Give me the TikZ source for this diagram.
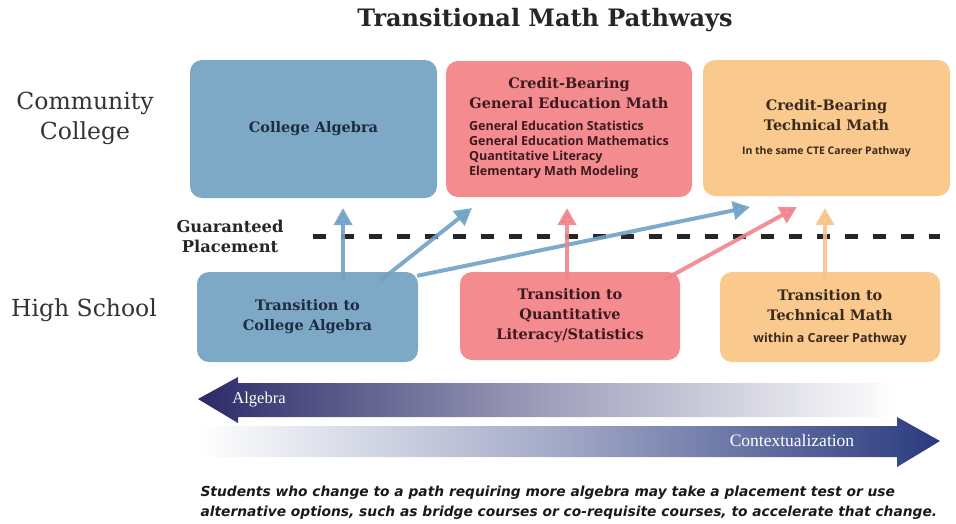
\documentclass[tikz,border=0pt]{standalone}
\usepackage{fontspec}
\usetikzlibrary{arrows.meta}
\newfontfamily\slab{DejaVu Serif}
\newfontfamily\gsans{Open Sans}
\newfontfamily\csans{DejaVu Sans}
\newfontfamily\lserif{Liberation Serif}
\newcommand{\boxhead}{\slab\bfseries\fontsize{14.5}{20}\selectfont}
\newcommand{\boxlist}{\gsans\bfseries\fontsize{12.5}{15}\selectfont}
\definecolor{cablue}{HTML}{7DA8C6}
\definecolor{capink}{HTML}{F38B8F}
\definecolor{caorange}{HTML}{F9C98D}
\definecolor{arblue}{HTML}{6FA2C6}
\definecolor{arpink}{HTML}{F0858C}
\definecolor{arorange}{HTML}{F7C386}
\definecolor{txblue}{HTML}{1E2B40}
\definecolor{txpink}{HTML}{3D1A1E}
\definecolor{txorange}{HTML}{3A2A1E}
\definecolor{navyalg}{HTML}{2B2A68}
\definecolor{navyctx}{HTML}{2A3A7E}
\begin{document}
\begin{tikzpicture}
	[x=1pt,y=-1pt,
	box/.style={rounded corners=12pt,inner sep=0pt,align=center,font=\boxhead},
	side/.style={font=\slab\fontsize{23.5}{30}\selectfont,text=black!80,align=center},
	route/.style={line width=4pt,opacity=0.9,-{Triangle[width=18pt,length=17pt]}}]
    \useasboundingbox (0,0) rectangle (956,523);
    \node[font=\slab\bfseries\fontsize{24}{28}\selectfont,text=black!85] at (545,20) (title) {Transitional Math Pathways};
    \node[side] at (85,118) (cc) {Community\\College};
    \node[side] at (84,310) (hs) {High School};
    \node[align=center,font=\slab\bfseries\fontsize{16.3}{20}\selectfont,text=black!85] at (230,236) (gp) {Guaranteed\\Placement};
    % upper row
    \node[box,fill=cablue,minimum width=247pt,minimum height=138pt,text=txblue] at (313.5,129) (calg) {College Algebra};
    \node[box,fill=capink,minimum width=246pt,minimum height=136pt,text=txpink] at (569,129) (gem) {Credit-Bearing\\General Education Math\\[10pt]\boxlist\begin{tabular}{@{}l@{}}General Education Statistics\\General Education Mathematics\\Quantitative Literacy\\Elementary Math Modeling\end{tabular}};
    \node[box,fill=caorange,minimum width=247pt,minimum height=136pt,text=txorange] at (826.5,128) (tech) {Credit-Bearing\\Technical Math\\[4pt]\gsans\bfseries\fontsize{10.5}{13}\selectfont In the same CTE Career Pathway};
    % lower row
    \node[box,fill=cablue,minimum width=221pt,minimum height=90pt,text=txblue] at (307.5,317) (tcalg) {Transition to\\College Algebra};
    \node[box,fill=capink,minimum width=220pt,minimum height=88pt,text=txpink] at (570,316) (tql) {Transition to\\Quantitative\\Literacy/Statistics};
    \node[box,fill=caorange,minimum width=220pt,minimum height=90pt,text=txorange] at (830,317) (ttech) {Transition to\\Technical Math\\[2pt]\gsans\bfseries\fontsize{12.5}{13}\selectfont within a Career Pathway};
    % placement line
    \coordinate (gl) at (313,236);
    \coordinate (gr) at (940,236);
    \draw[black!85,line width=5pt,dash pattern=on 13pt off 15pt] (gl) -- (gr);
    % pathways
    \coordinate (e1) at (343,208);
    \coordinate (e2) at (472,208);
    \coordinate (e3) at (750,207);
    \coordinate (e4) at (567,208);
    \coordinate (e5) at (797,207);
    \coordinate (e6) at (825,208);
    \draw[route,arblue] ([xshift=35.5pt,yshift=-7pt]tcalg.north) -- (e1);
    \draw[route,arblue] ([xshift=72.5pt,yshift=-9pt]tcalg.north) -- (e2);
    \draw[route,arblue] ([xshift=-1pt,yshift=-4pt]tcalg.north east) -- (e3);
    \draw[route,arpink] ([xshift=-3pt,yshift=-10pt]tql.north) -- (e4);
    \draw[route,arpink] ([xshift=-18pt,yshift=-9pt]tql.north east) -- (e5);
    \draw[route,arorange] ([xshift=-5pt,yshift=-7pt]ttech.north) -- (e6);
    % algebra / contextualization
    \shade[left color=navyalg,right color=white,middle color=navyalg!45]
      (198,399) -- (238,377) -- (238,383) -- (897,383) -- (897,417) -- (238,417) -- (238,423) -- cycle;
    \shade[left color=white,right color=navyctx,middle color=navyctx!45]
      (200,426) -- (897,426) -- (897,417) -- (940,441) -- (897,467) -- (897,457) -- (200,457) -- cycle;
    \node[font=\lserif\fontsize{16.5}{18}\selectfont,text=white] at (259,400) (alg) {Algebra};
    \node[font=\lserif\fontsize{17.5}{18}\selectfont,text=white] at (792,441) (ctx) {Contextualization};
    \node[font=\csans\bfseries\itshape\fontsize{13.8}{20}\selectfont,text=black!90,align=left,anchor=west] at (197,503) (note) {Students who change to a path requiring more algebra may take a placement test or use\\alternative options, such as bridge courses or co-requisite courses, to accelerate that change.};
\end{tikzpicture}
\end{document}
